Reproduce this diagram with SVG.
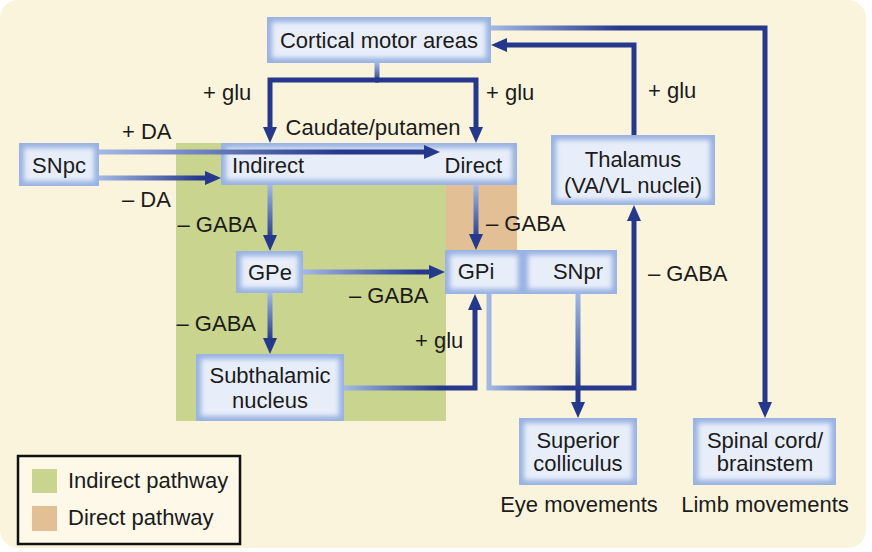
<svg xmlns="http://www.w3.org/2000/svg" width="872" height="552" viewBox="0 0 872 552">
<defs>
<style>
.t{font-family:"Liberation Sans",Arial,sans-serif;font-size:22px;fill:#1b1b1b}
.m{text-anchor:middle}
.e{text-anchor:end}
.nb{fill:#98B2E2}
.ni{fill:#E8EEF9}
.c{fill:none;stroke-width:5;stroke-linejoin:miter}
.d{stroke:#25388C}
</style>
<filter id="soft" x="-25%" y="-25%" width="150%" height="150%"><feGaussianBlur stdDeviation="2.5"/></filter>
<marker id="ah" markerUnits="userSpaceOnUse" markerWidth="16" markerHeight="14" refX="0" refY="7" orient="auto" overflow="visible"><path d="M0,0 L16,7 L0,14 z" fill="#25388C"/></marker>
<linearGradient id="gA" gradientUnits="userSpaceOnUse" x1="99" y1="0" x2="340" y2="0"><stop offset="0" stop-color="#A3B9E4"/><stop offset="1" stop-color="#25388C"/></linearGradient>
<linearGradient id="gB" gradientUnits="userSpaceOnUse" x1="99" y1="0" x2="200" y2="0"><stop offset="0" stop-color="#A3B9E4"/><stop offset="1" stop-color="#25388C"/></linearGradient>
<linearGradient id="gC" gradientUnits="userSpaceOnUse" x1="0" y1="185" x2="0" y2="240"><stop offset="0" stop-color="#A3B9E4"/><stop offset="1" stop-color="#25388C"/></linearGradient>
<linearGradient id="gD" gradientUnits="userSpaceOnUse" x1="303" y1="0" x2="420" y2="0"><stop offset="0" stop-color="#A3B9E4"/><stop offset="1" stop-color="#25388C"/></linearGradient>
<linearGradient id="gE" gradientUnits="userSpaceOnUse" x1="0" y1="293" x2="0" y2="340"><stop offset="0" stop-color="#A3B9E4"/><stop offset="1" stop-color="#25388C"/></linearGradient>
<linearGradient id="gF" gradientUnits="userSpaceOnUse" x1="344" y1="0" x2="440" y2="0"><stop offset="0" stop-color="#A3B9E4"/><stop offset="1" stop-color="#25388C"/></linearGradient>
<linearGradient id="gG" gradientUnits="userSpaceOnUse" x1="489" y1="0" x2="565" y2="0"><stop offset="0" stop-color="#A3B9E4"/><stop offset="1" stop-color="#25388C"/></linearGradient>
<linearGradient id="gH" gradientUnits="userSpaceOnUse" x1="0" y1="294" x2="0" y2="390"><stop offset="0" stop-color="#A3B9E4"/><stop offset="1" stop-color="#25388C"/></linearGradient>
<linearGradient id="gI" gradientUnits="userSpaceOnUse" x1="491" y1="0" x2="620" y2="0"><stop offset="0" stop-color="#A3B9E4"/><stop offset="1" stop-color="#25388C"/></linearGradient>
<linearGradient id="gJ" gradientUnits="userSpaceOnUse" x1="0" y1="63" x2="0" y2="82"><stop offset="0" stop-color="#A3B9E4"/><stop offset="1" stop-color="#25388C"/></linearGradient>
</defs>

<rect x="0" y="0" width="866" height="548" rx="18" fill="#FBF4DD"/>

<g id="regions">
<rect x="176" y="143" width="270" height="278" fill="#C9D48E"/>
<rect x="446" y="143" width="71" height="107" fill="#E2BF95"/>
</g>

<g id="cortical"><rect class="nb" x="267" y="17" width="224" height="46"/><rect class="ni" x="272" y="22" width="214" height="36" filter="url(#soft)"/><text class="t m" x="379" y="48">Cortical motor areas</text></g>
<g id="caudate"><rect class="nb" x="221" y="143" width="296" height="42"/><rect class="ni" x="226" y="148" width="286" height="32" filter="url(#soft)"/><text class="t" x="232" y="173">Indirect</text><text class="t e" x="502" y="173">Direct</text><text class="t m" x="373" y="135">Caudate/putamen</text></g>
<g id="snpc"><rect class="nb" x="19" y="143" width="80" height="43"/><rect class="ni" x="24" y="148" width="70" height="33" filter="url(#soft)"/><text class="t m" x="59" y="173">SNpc</text></g>
<g id="gpe"><rect class="nb" x="236" y="251" width="67" height="42"/><rect class="ni" x="241" y="256" width="57" height="32" filter="url(#soft)"/><text class="t m" x="270" y="280">GPe</text></g>
<g id="gpi"><rect class="nb" x="445" y="250" width="78" height="44"/><rect class="ni" x="450" y="255" width="68" height="34" filter="url(#soft)"/><text class="t m" x="476" y="279">GPi</text></g>
<g id="snpr"><rect class="nb" x="523" y="250" width="94" height="44"/><rect class="ni" x="528" y="255" width="84" height="34" filter="url(#soft)"/><text class="t m" x="578" y="279">SNpr</text></g>
<g id="stn"><rect class="nb" x="196" y="354" width="148" height="67"/><rect class="ni" x="201" y="359" width="138" height="57" filter="url(#soft)"/><text class="t m" x="270" y="383">Subthalamic</text><text class="t m" x="270" y="408">nucleus</text></g>
<g id="thalamus"><rect class="nb" x="551" y="135" width="164" height="70"/><rect class="ni" x="556" y="140" width="154" height="60" filter="url(#soft)"/><text class="t m" x="633" y="167">Thalamus</text><text class="t m" x="633" y="193">(VA/VL nuclei)</text></g>
<g id="colliculus"><rect class="nb" x="519" y="418" width="118" height="67"/><rect class="ni" x="524" y="423" width="108" height="57" filter="url(#soft)"/><text class="t m" x="578" y="448">Superior</text><text class="t m" x="578" y="471">colliculus</text></g>
<g id="spinal"><rect class="nb" x="693" y="418" width="143" height="67"/><rect class="ni" x="698" y="423" width="133" height="57" filter="url(#soft)"/><text class="t m" x="765" y="448">Spinal cord/</text><text class="t m" x="765" y="471">brainstem</text></g>

<g id="connectors">
<path class="c" d="M377,63 V80" style="stroke:url(#gJ)"/>
<path class="c d" d="M379,80 H270 V127" marker-end="url(#ah)"/>
<path class="c d" d="M375,80 H476 V127" marker-end="url(#ah)"/>
<path class="c" d="M99,152 H424" style="stroke:url(#gA)" marker-end="url(#ah)"/>
<path class="c" d="M99,178 H205" style="stroke:url(#gB)" marker-end="url(#ah)"/>
<path class="c" d="M270,185 V235" style="stroke:url(#gC)" marker-end="url(#ah)"/>
<path class="c" d="M476,185 V234" style="stroke:url(#gC)" marker-end="url(#ah)"/>
<path class="c" d="M303,272 H429" style="stroke:url(#gD)" marker-end="url(#ah)"/>
<path class="c" d="M270,293 V338" style="stroke:url(#gE)" marker-end="url(#ah)"/>
<path class="c" d="M344,388 H475 V310" style="stroke:url(#gF)" marker-end="url(#ah)"/>
<path class="c" d="M489,294 V388 H634 V221" style="stroke:url(#gG)" marker-end="url(#ah)"/>
<path class="c" d="M578,294 V402" style="stroke:url(#gH)" marker-end="url(#ah)"/>
<path class="c d" d="M634,135 V45 H507" marker-end="url(#ah)"/>
<path class="c" d="M491,28 H765 V402" style="stroke:url(#gI)" marker-end="url(#ah)"/>
</g>

<g id="labels">
<text class="t" x="203" y="100">+ glu</text>
<text class="t" x="486" y="100">+ glu</text>
<text class="t" x="648" y="98">+ glu</text>
<text class="t" x="122" y="139">+ DA</text>
<text class="t" x="122" y="207">– DA</text>
<text class="t e" x="257" y="232">– GABA</text>
<text class="t" x="486" y="231">– GABA</text>
<text class="t" x="349" y="303">– GABA</text>
<text class="t e" x="256" y="331">– GABA</text>
<text class="t" x="415" y="348">+ glu</text>
<text class="t" x="648" y="281">– GABA</text>
<text class="t m" x="579" y="512">Eye movements</text>
<text class="t m" x="765" y="512">Limb movements</text>
</g>

<g id="legend">
<rect x="18" y="456" width="222" height="88" fill="#FDF8E8" stroke="#111111" stroke-width="2.5"/>
<rect x="32" y="469" width="25" height="24" fill="#C9D48E"/>
<rect x="32" y="506" width="25" height="25" fill="#E2BF95"/>
<text class="t" x="68" y="488">Indirect pathway</text>
<text class="t" x="68" y="525">Direct pathway</text>
</g>
</svg>
